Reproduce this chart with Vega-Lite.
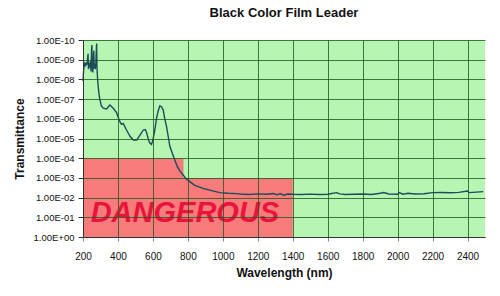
{
  "$schema": "https://vega.github.io/schema/vega-lite/v6.json",
  "width": 402,
  "height": 197,
  "autosize": "none",
  "padding": {"left": 83, "top": 40, "right": 15, "bottom": 59},
  "background": "white",
  "config": {
    "font": "Liberation Sans",
    "view": {"fill": "#b6f5b2", "stroke": null},
    "axis": {"labelOverlap": false, "labelFlush": false}
  },
  "title": {"text": "Black Color Film Leader", "fontSize": 13, "fontWeight": "bold", "color": "#111111", "offset": 15, "font": "Liberation Sans"},
  "datasets": {
    "zones": [
      {"wl": 200, "wl2": 1400, "t": 0.001, "t2": 1},
      {"wl": 200, "wl2": 775, "t": 0.0001, "t2": 0.001}
    ],
    "labels": [
      {"label": "DANGEROUS", "wl": 783, "t": 0.06}
    ],
    "spectrum": [
      {"wl": 200, "t": 1.2e-8}, {"wl": 203, "t": 4e-9}, {"wl": 206, "t": 2e-9}, {"wl": 210, "t": 1.6e-9},
      {"wl": 214, "t": 2.2e-9}, {"wl": 218, "t": 1.4e-9}, {"wl": 222, "t": 1.8e-9}, {"wl": 226, "t": 9e-10},
      {"wl": 229, "t": 5e-10}, {"wl": 231, "t": 3e-9}, {"wl": 234, "t": 1.5e-9}, {"wl": 238, "t": 2.5e-9},
      {"wl": 242, "t": 1.2e-9}, {"wl": 246, "t": 4e-9}, {"wl": 249, "t": 3e-10}, {"wl": 251, "t": 1.8e-10},
      {"wl": 253, "t": 2e-9}, {"wl": 256, "t": 4.5e-9}, {"wl": 259, "t": 1.5e-9}, {"wl": 262, "t": 3.5e-10},
      {"wl": 264, "t": 2.8e-9}, {"wl": 267, "t": 1.6e-9}, {"wl": 270, "t": 3e-9}, {"wl": 273, "t": 2e-9},
      {"wl": 276, "t": 4e-10}, {"wl": 278, "t": 1.5e-10}, {"wl": 280, "t": 2.5e-9}, {"wl": 283, "t": 8e-9},
      {"wl": 287, "t": 2.3e-8}, {"wl": 292, "t": 6e-8}, {"wl": 297, "t": 1.1e-7}, {"wl": 305, "t": 2.2e-7},
      {"wl": 316, "t": 2.9e-7}, {"wl": 335, "t": 3.2e-7}, {"wl": 354, "t": 2.0e-7}, {"wl": 373, "t": 2.9e-7},
      {"wl": 392, "t": 4.9e-7}, {"wl": 411, "t": 1.4e-6}, {"wl": 420, "t": 1.9e-6}, {"wl": 430, "t": 1.7e-6},
      {"wl": 449, "t": 3.7e-6}, {"wl": 470, "t": 8e-6}, {"wl": 488, "t": 1.2e-5}, {"wl": 507, "t": 1.2e-5},
      {"wl": 525, "t": 7e-6}, {"wl": 545, "t": 3.7e-6}, {"wl": 556, "t": 3.5e-6}, {"wl": 564, "t": 5e-6},
      {"wl": 575, "t": 1.2e-5}, {"wl": 583, "t": 1.74e-5}, {"wl": 592, "t": 2e-5}, {"wl": 600, "t": 1.2e-5},
      {"wl": 611, "t": 3.7e-6}, {"wl": 620, "t": 1e-6}, {"wl": 630, "t": 4e-7}, {"wl": 640, "t": 2.2e-7},
      {"wl": 650, "t": 2.5e-7}, {"wl": 659, "t": 3.6e-7}, {"wl": 668, "t": 1e-6}, {"wl": 678, "t": 2.5e-6},
      {"wl": 697, "t": 2.5e-5}, {"wl": 712, "t": 6e-5}, {"wl": 726, "t": 1.3e-4}, {"wl": 740, "t": 2.7e-4},
      {"wl": 755, "t": 4.5e-4}, {"wl": 773, "t": 7.1e-4}, {"wl": 790, "t": 1.1e-3}, {"wl": 811, "t": 1.55e-3},
      {"wl": 840, "t": 2.4e-3}, {"wl": 887, "t": 3.4e-3}, {"wl": 930, "t": 4.3e-3}, {"wl": 983, "t": 5.6e-3},
      {"wl": 1030, "t": 6.0e-3}, {"wl": 1078, "t": 6.3e-3}, {"wl": 1100, "t": 6.6e-3}, {"wl": 1150, "t": 6.9e-3},
      {"wl": 1200, "t": 6.5e-3}, {"wl": 1250, "t": 6.8e-3}, {"wl": 1290, "t": 6.2e-3}, {"wl": 1310, "t": 7.2e-3},
      {"wl": 1330, "t": 6.4e-3}, {"wl": 1350, "t": 7.6e-3}, {"wl": 1370, "t": 6.6e-3}, {"wl": 1400, "t": 6.8e-3},
      {"wl": 1450, "t": 6.9e-3}, {"wl": 1500, "t": 6.7e-3}, {"wl": 1550, "t": 6.9e-3}, {"wl": 1600, "t": 6.8e-3},
      {"wl": 1650, "t": 5.6e-3}, {"wl": 1670, "t": 6.5e-3}, {"wl": 1700, "t": 6.9e-3}, {"wl": 1750, "t": 6.8e-3},
      {"wl": 1800, "t": 6.6e-3}, {"wl": 1850, "t": 6.9e-3}, {"wl": 1900, "t": 6.0e-3}, {"wl": 1920, "t": 5.5e-3},
      {"wl": 1950, "t": 6.6e-3}, {"wl": 2000, "t": 6.8e-3}, {"wl": 2010, "t": 5.6e-3}, {"wl": 2030, "t": 6.7e-3},
      {"wl": 2060, "t": 6.0e-3}, {"wl": 2100, "t": 6.6e-3}, {"wl": 2150, "t": 6.4e-3}, {"wl": 2200, "t": 5.6e-3},
      {"wl": 2250, "t": 5.5e-3}, {"wl": 2300, "t": 5.7e-3}, {"wl": 2350, "t": 5.4e-3}, {"wl": 2400, "t": 4.6e-3},
      {"wl": 2410, "t": 5.6e-3}, {"wl": 2450, "t": 5.3e-3}, {"wl": 2490, "t": 5.0e-3}
    ]
  },
  "encoding": {
    "x": {
      "field": "wl", "type": "quantitative",
      "scale": {"domain": [200, 2500], "nice": false, "zero": false},
      "axis": {
        "title": "Wavelength (nm)", "titleFontSize": 12, "titleFontWeight": "bold", "titleColor": "#111111", "titlePadding": 6,
        "values": [200, 400, 600, 800, 1000, 1200, 1400, 1600, 1800, 2000, 2200, 2400],
        "labelExpr": "format(datum.value, 'd')", "labelFontSize": 10, "labelColor": "#111111", "labelPadding": 10, "labelOverlap": false,
        "tickSize": 4, "tickColor": "#888888", "domainColor": "#333333",
        "grid": true, "gridColor": "#1f561f", "gridOpacity": 0.8, "gridWidth": 1, "zindex": 1
      }
    },
    "y": {
      "field": "t", "type": "quantitative",
      "scale": {"type": "log", "domain": [1e-10, 1], "reverse": true, "nice": false},
      "axis": {
        "title": "Transmittance", "titleFontSize": 12, "titleFontWeight": "bold", "titleColor": "#111111", "titlePadding": 7,
        "values": [1e-10, 1e-9, 1e-8, 1e-7, 1e-6, 1e-5, 1e-4, 1e-3, 1e-2, 1e-1, 1],
        "labelExpr": "'1.00E' + (datum.value < 0.5 ? '-' : '+') + (abs(round(log(datum.value)/LN10)) < 10 ? '0' : '') + abs(round(log(datum.value)/LN10))",
        "labelFontSize": 9.5, "labelColor": "#111111", "labelPadding": 4, "labelOverlap": false,
        "tickSize": 5, "tickColor": "#333333", "domainColor": "#333333",
        "grid": true, "gridColor": "#1f561f", "gridOpacity": 0.8, "gridWidth": 1, "zindex": 1
      }
    }
  },
  "layer": [
    {
      "data": {"name": "zones"},
      "mark": {"type": "rect", "color": "#f77b7b", "opacity": 1},
      "encoding": {
        "x2": {"field": "wl2"},
        "y2": {"field": "t2"}
      }
    },
    {
      "data": {"name": "labels"},
      "mark": {"type": "text", "font": "Liberation Sans", "fontStyle": "italic", "fontWeight": "bold", "fontSize": 29, "color": "#e8143c", "align": "center", "baseline": "middle"},
      "encoding": {
        "text": {"field": "label"}
      }
    },
    {
      "data": {"name": "spectrum"},
      "mark": {"type": "line", "color": "#1d4b5c", "strokeWidth": 1.4, "interpolate": "linear"},
      "encoding": {}
    }
  ]
}
